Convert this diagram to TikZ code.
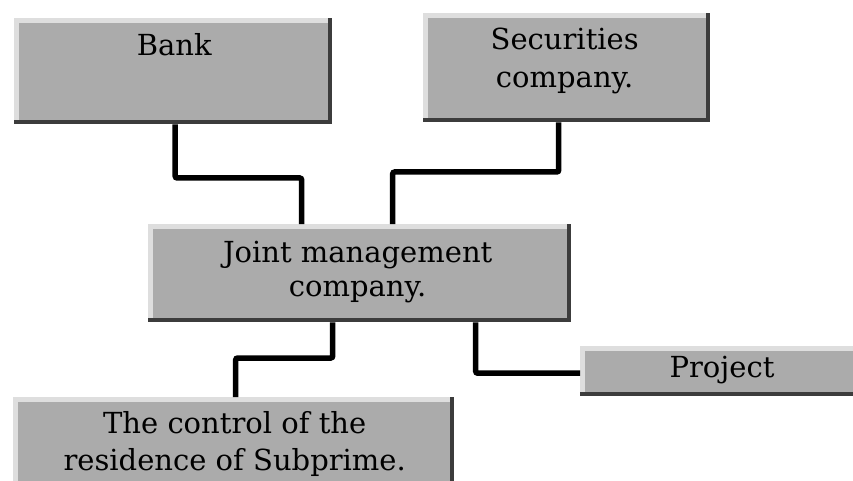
\documentclass[tikz,border=0pt]{standalone}
\usepackage{fontspec}
\setmainfont{DejaVu Serif}
\usetikzlibrary{calc}
\definecolor{boxgray}{HTML}{ABABAB}
\definecolor{darkedge}{HTML}{3C3C3C}
\definecolor{lightedge}{HTML}{DEDEDE}
\tikzset{
  box/.style={rectangle, fill=boxgray, draw=none, inner sep=0pt, anchor=north west,
    path picture={
      \fill[lightedge] (path picture bounding box.north west) rectangle ([yshift=-5pt]path picture bounding box.north east);
      \fill[lightedge] (path picture bounding box.north west) rectangle ([xshift=5pt]path picture bounding box.south west);
      \fill[darkedge] ([yshift=4pt]path picture bounding box.south west) rectangle (path picture bounding box.south east);
      \fill[darkedge] ([xshift=-4pt]path picture bounding box.north east) rectangle (path picture bounding box.south east);
    }},
  lbl/.style={inner sep=0pt, anchor=north, align=center, text=black},
  conn/.style={draw=black, line width=5.5pt, rounded corners=2pt}
}
\begin{document}
\begin{tikzpicture}[x=1pt, y=-1pt]
\useasboundingbox (0,0) rectangle (853,481);
% boxes
\node[box, minimum width=318pt, minimum height=106pt] (bank) at (14,18) {};
\node[box, minimum width=287pt, minimum height=109pt] (sec) at (423,13) {};
\node[box, minimum width=423pt, minimum height=98pt] (joint) at (148,224) {};
\node[box, minimum width=441pt, minimum height=110pt] (sub) at (13,397) {};
\node[box, minimum width=300pt, minimum height=50pt] (proj) at (580,346) {};
% labels
\node[lbl, font=\fontsize{29}{37}\selectfont] (bankt) at ($(bank.north)+(1,15)$) {Bank};
\node[lbl, font=\fontsize{29}{38}\selectfont] (sect) at ($(sec.north)+(-2,15)$) {Securities\\company.};
\node[lbl, font=\fontsize{29}{34}\selectfont] (jointt) at ($(joint.north)+(-2,17)$) {Joint management\\company.};
\node[lbl, font=\fontsize{29}{37}\selectfont] (subt) at ($(sub.north)+(1,14)$) {The control of the\\residence of Subprime.};
\node[lbl, font=\fontsize{29}{37}\selectfont] (projt) at (722,356) {Project};
% connectors
\draw[conn] ($(bank.south)+(2,0)$) |- ($(joint.north)+(-58,-46)$) -- ($(joint.north)+(-58,0)$);
\draw[conn] ($(sec.south)+(-8,0)$) |- ($(joint.north)+(33,-52)$) -- ($(joint.north)+(33,0)$);
\draw[conn] ($(joint.south)+(-27,0)$) |- ($(sub.north)+(2,-39)$) -- ($(sub.north)+(2,0)$);
\draw[conn] ($(joint.south)+(116,0)$) |- ($(proj.west)+(0,2)$);
\end{tikzpicture}
\end{document}
